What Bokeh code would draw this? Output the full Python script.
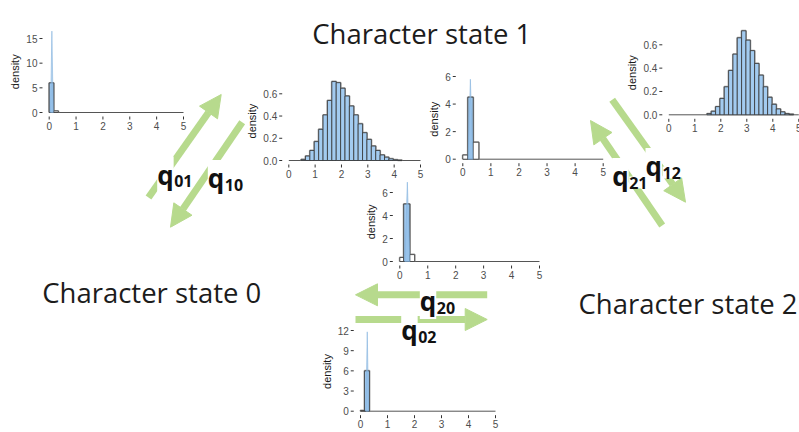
import numpy as np
from bokeh.plotting import figure
from bokeh.models import Range1d, Arrow, NormalHead
from bokeh.core.properties import value
from bokeh.embed import file_html
from bokeh.resources import INLINE

# ------------------------------------------------------------------ data
x_ticks = [0, 1, 2, 3, 4, 5]
x_tick_labels = ["0", "1", "2", "3", "4", "5"]

# q01 : posterior density of rate q01
q01_edges = [0.0, 0.17, 0.34]
q01_density = [6.0, 0.3]
q01_spike_x = [0.05, 0.10, 0.15]
q01_spike_y = [0.0, 16.5, 0.0]
q01_y_ticks = [0, 5, 10, 15]
q01_y_labels = ["0", "5", "10", "15"]

# q10
q10_bin_start = 0.467
q10_bin_width = 1 / 6
q10_density = [0.01, 0.04, 0.09, 0.17, 0.28, 0.41, 0.54, 0.71, 0.70, 0.65, 0.58,
               0.49, 0.41, 0.33, 0.25, 0.19, 0.13, 0.09, 0.05, 0.03, 0.015, 0.007, 0.003]
q10_y_ticks = [0.0, 0.2, 0.4, 0.6]
q10_y_labels = ["0.0", "0.2", "0.4", "0.6"]

# q21
q21_edges = [0.0, 0.18, 0.37, 0.57]
q21_density = [0.3, 4.5, 1.23]
q21_spike_x = [0.19, 0.27, 0.36]
q21_spike_y = [0.0, 5.8, 0.0]
q21_y_ticks = [0, 2, 4, 6]
q21_y_labels = ["0", "2", "4", "6"]

# q12
q12_bin_start = 1.467
q12_bin_width = 1 / 6
q12_density = [0.01, 0.03, 0.07, 0.14, 0.24, 0.38, 0.52, 0.66, 0.72, 0.64, 0.55,
               0.44, 0.34, 0.24, 0.15, 0.09, 0.05, 0.025, 0.01, 0.005]
q12_y_ticks = [0.0, 0.2, 0.4, 0.6]
q12_y_labels = ["0.0", "0.2", "0.4", "0.6"]

# q20
q20_edges = [0.0, 0.14, 0.36, 0.53]
q20_density = [0.35, 5.0, 0.6]
q20_spike_x = [0.18, 0.27, 0.36]
q20_spike_y = [0.0, 6.9, 0.0]
q20_y_ticks = [0, 2, 4, 6]
q20_y_labels = ["0", "2", "4", "6"]

# q02
q02_edges = [0.0, 0.15, 0.33]
q02_density = [0.1, 6.0]
q02_spike_x = [0.20, 0.25, 0.30]
q02_spike_y = [0.0, 11.8, 0.0]
q02_y_ticks = [0, 3, 6, 9, 12]
q02_y_labels = ["0", "3", "6", "9", "12"]

state_labels = ["Character state 1", "Character state 0", "Character state 2"]
rate_names = ["01", "10", "21", "12", "20", "02"]

# ------------------------------------------------------------------ styles
GREEN = "#b7da8d"
BLUE = "#a3cbf0"
SPIKE = "#8fbde6"
DARK = "#333333"
TICK_TXT = "#4d4d4d"
AX_FONT = value("Liberation Sans")
BIG_FONT = value("Open Sans")

W, H = 799, 432


def edges_from(start, width, n):
    return [start + width * i for i in range(n + 1)]


panels = [
    # frame = (px of x=0, px of x=5, px of y=0, px of top tick, top tick value)
    dict(edges=q01_edges, dens=q01_density, sx=q01_spike_x, sy=q01_spike_y,
         yt=q01_y_ticks, yl=q01_y_labels, frame=(48.7, 183.0, 112.0, 38.0, 15)),
    dict(edges=edges_from(q10_bin_start, q10_bin_width, len(q10_density)), dens=q10_density,
         sx=None, sy=None, yt=q10_y_ticks, yl=q10_y_labels, frame=(288.3, 420.0, 160.0, 93.3, 0.6)),
    dict(edges=q21_edges, dens=q21_density, sx=q21_spike_x, sy=q21_spike_y,
         yt=q21_y_ticks, yl=q21_y_labels, frame=(462.3, 602.7, 158.7, 76.0, 6)),
    dict(edges=edges_from(q12_bin_start, q12_bin_width, len(q12_density)), dens=q12_density,
         sx=None, sy=None, yt=q12_y_ticks, yl=q12_y_labels, frame=(668.3, 798.3, 114.3, 44.3, 0.6)),
    dict(edges=q20_edges, dens=q20_density, sx=q20_spike_x, sy=q20_spike_y,
         yt=q20_y_ticks, yl=q20_y_labels, frame=(399.3, 539.0, 261.0, 192.0, 6)),
    dict(edges=q02_edges, dens=q02_density, sx=q02_spike_x, sy=q02_spike_y,
         yt=q02_y_ticks, yl=q02_y_labels, frame=(360.0, 495.0, 410.7, 330.0, 12)),
]

p = figure(width=W, height=H, x_range=Range1d(0, W), y_range=Range1d(H, 0),
           x_axis_type=None, y_axis_type=None, output_backend="svg",
           toolbar_location=None, min_border=0)
p.outline_line_color = None
p.background_fill_color = "white"
p.border_fill_color = "white"

# ------------------------------------------------------------------ arrows (beneath the glyphs)
arrow_specs = [
    ((148.0, 197.0), (220.7, 94.0)),    # q01
    ((241.7, 121.7), (170.0, 226.7)),   # q10
    ((611.7, 99.3), (685.0, 201.7)),    # q12
    ((661.7, 225.0), (590.0, 120.0)),   # q21
    ((486.7, 294.3), (355.0, 294.3)),   # q20
    ((355.0, 319.0), (486.7, 319.0)),   # q02
]
for (xs, ys), (xe, ye) in arrow_specs:
    p.add_layout(Arrow(end=NormalHead(size=22, fill_color=GREEN, line_color=GREEN, line_width=1),
                       x_start=xs, y_start=ys, x_end=xe, y_end=ye,
                       line_color=GREEN, line_width=7, level="underlay"))

# ------------------------------------------------------------------ histogram panels
for pan in panels:
    x0, x5, y0, yt_px, yt_val = pan["frame"]
    sub = p.subplot(x_source=Range1d(0, 5), y_source=Range1d(0, yt_val),
                    x_target=Range1d(x0, x5), y_target=Range1d(y0, yt_px))
    kx = (x5 - x0) / 5.0
    ky = (y0 - yt_px) / yt_val
    xl = x_ticks[0] - 0.05 * (x_ticks[-1] - x_ticks[0])
    yb = -4.0 / ky

    sub.line(x=[x_ticks[0], x_ticks[-1]], y=[0, 0], line_color="#555555", line_width=1)

    edges = pan["edges"]
    dens = pan["dens"]
    narrow = pan["sx"] is not None
    hmax = max(dens)
    fills = [BLUE if (not narrow or h == hmax) else "white" for h in dens]
    # grey envelope
    sx_env = [edges[0]] + [e for e in edges for _ in (0, 1)][1:-1] + [edges[-1]]
    sy_env = [0] + [h for h in dens for _ in (0, 1)] + [0]
    sub.line(x=sx_env, y=sy_env, line_color="#8a8a8a", line_width=2, line_alpha=0.8)
    sub.quad(left=edges[:-1], right=edges[1:], bottom=0, top=dens,
             fill_color=fills, line_color=DARK, line_width=0.8)
    if narrow:
        sub.patch(pan["sx"], pan["sy"], fill_color=SPIKE, fill_alpha=0.6,
                  line_color="#7fb0dd", line_alpha=0.7, line_width=0.8)

    # y axis ticks + labels
    yt = pan["yt"]
    sub.scatter(x=[xl - 1.5 / kx] * len(yt), y=yt, marker="dash", size=3,
                line_color=DARK, line_width=1)
    sub.text(x=[xl - 5.0 / kx] * len(yt), y=yt, text=pan["yl"], text_align="right",
             text_baseline="middle", text_font_size="10px", text_color=TICK_TXT,
             text_font=AX_FONT)
    # x axis ticks + labels
    sub.scatter(x=x_ticks, y=[yb - 1.5 / ky] * len(x_ticks), marker="dash", angle=np.pi / 2,
                size=3, line_color=DARK, line_width=1)
    sub.text(x=x_ticks, y=[yb - 5.0 / ky] * len(x_ticks), text=x_tick_labels,
             text_align="center", text_baseline="top", text_font_size="10px",
             text_color=TICK_TXT, text_font=AX_FONT)
    # axis title
    wlab = max(sum(2.8 if c == "." else 5.6 for c in s) for s in pan["yl"])
    top_val = max(max(dens), max(pan["sy"]) if narrow else 0)
    ymid = (yb + 1.05 * top_val) / 2.0
    sub.text(x=[xl - (16.0 + wlab) / kx], y=[ymid], text=["density"], angle=np.pi / 2,
             text_align="center", text_baseline="middle", text_font_size="11px",
             text_color="#1a1a1a", text_font=AX_FONT)

# ------------------------------------------------------------------ state titles
p.text(x=[311.7, 41.7, 578.0], y=[33.0, 291.7, 302.5], text=state_labels,
       text_align="left", text_baseline="alphabetic",
       text_font=BIG_FONT, text_font_size="27.5px", text_color="#1c1c1c")

# ------------------------------------------------------------------ rate labels
q_pos = [(156.7, 174.0), (207.3, 177.5), (611.7, 175.5), (645.0, 165.5), (419.3, 300.5), (400.7, 329.5)]
qx = [q[0] for q in q_pos]
qy = [q[1] for q in q_pos]
sx = [x + 17.0 for x in qx]
sy = [y + 6.5 for y in qy]
base = dict(text_align="left", text_baseline="alphabetic", text_font=BIG_FONT,
            text_font_style="bold")
# white masks behind all labels first, then the labels on top
p.text(x=qx, y=qy, text=["q"] * len(qx), text_font_size="26px", text_alpha=0.0,
       background_fill_color="white", **base)
p.text(x=sx, y=sy, text=rate_names, text_font_size="16px", text_alpha=0.0,
       background_fill_color="white", **base)
p.text(x=qx, y=qy, text=["q"] * len(qx), text_font_size="26px", text_color="#111111", **base)
p.text(x=sx, y=sy, text=rate_names, text_font_size="16px", text_color="#111111", **base)

open("out.html", "w").write(file_html(p, INLINE))
